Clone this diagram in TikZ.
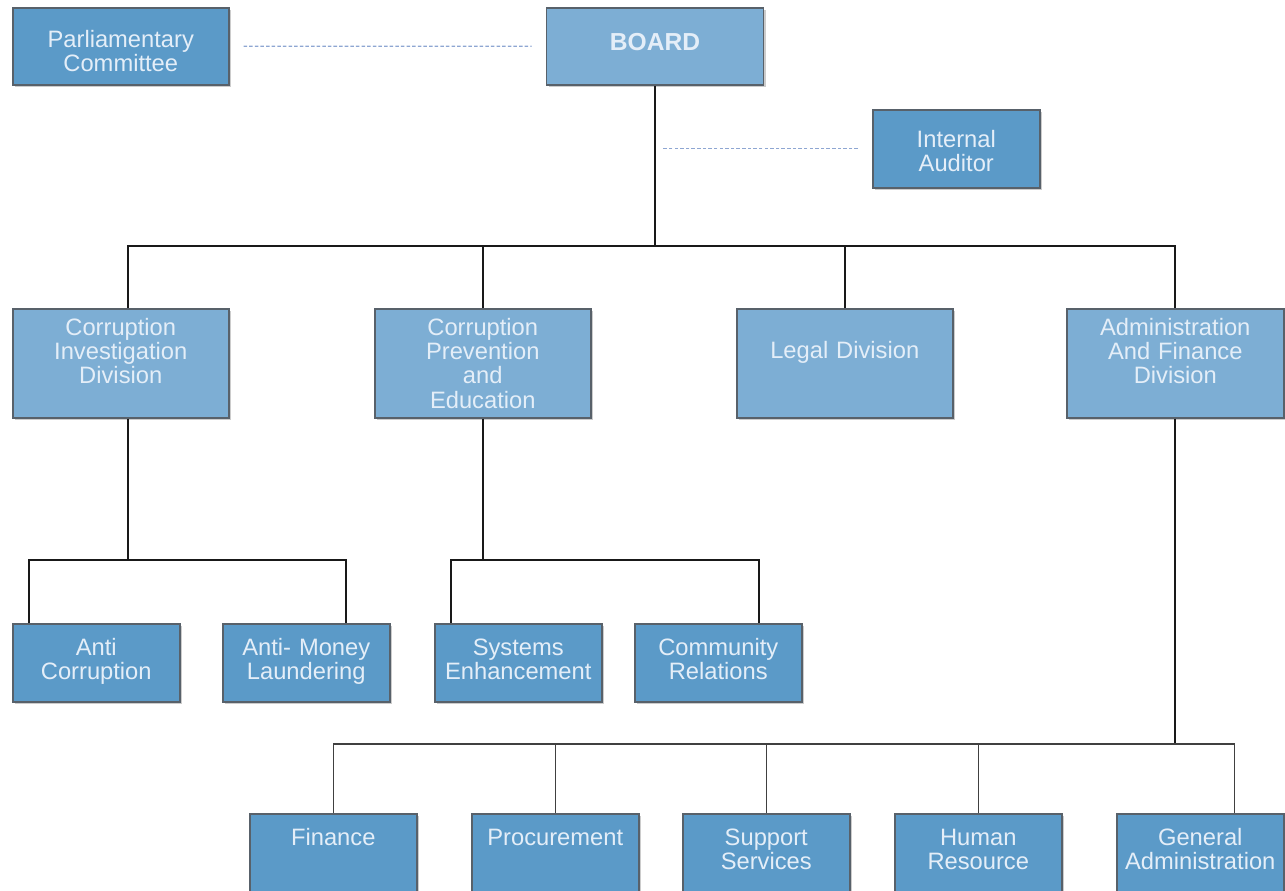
\documentclass[tikz,border=0pt]{standalone}
\usepackage{fontspec}
\setmainfont{Liberation Sans}
\usetikzlibrary{shadows}
\definecolor{lightbox}{HTML}{7DAED4}
\definecolor{darkbox}{HTML}{5B9AC8}
\definecolor{edgegray}{HTML}{58616A}
\definecolor{boxtext}{HTML}{E4EEF8}
\definecolor{dashblue}{HTML}{8EA6D2}
\newcommand\orgfont{\fontsize{13.5}{13.7}\selectfont}
\begin{document}
\begin{tikzpicture}[x=0.02cm,y=-0.02cm,
    box/.style={draw=edgegray, line width=0.9pt, text=boxtext, font=\orgfont, align=center,
      inner sep=0pt, drop shadow={shadow xshift=.05cm, shadow yshift=-.05cm, fill=black, opacity=.2}},
    light/.style={box, fill=lightbox},
    dark/.style={box, fill=darkbox},
    side/.style={dark, anchor=north west, text width=4.32cm, text height=.8cm, text depth=.74cm},
    division/.style={light, anchor=north west, text width=4.32cm, text height=.54cm, text depth=1.64cm},
    leaf/.style={dark, anchor=north west, text width=3.34cm, text height=.64cm, text depth=.92cm},
    bottomleaf/.style={leaf, text depth=.96cm},
    link/.style={draw=black!90, line width=1pt},
    sublink/.style={draw=black!75, line width=0.8pt},
    aux/.style={draw=dashblue, line width=0.7pt, dash pattern=on 2pt off 1.2pt}]
    \useasboundingbox (0,0) rectangle (1285,890);
    \clip (0,0) rectangle (1285,890);
    % top level
    \node[side] (parl) at (12,7) {Parliamentary\\Committee};
    \node[light, anchor=north, text width=4.34cm, text height=.86cm, text depth=.68cm,
      font=\fontsize{14}{14}\selectfont\bfseries] (board) at (655,7) {BOARD};
    \node[dark, anchor=north west, text width=3.34cm, text height=.76cm, text depth=.8cm] (audit) at (872,109) {Internal\\Auditor};
    % divisions
    \node[division] (cid) at (12,308) {Corruption\\Investigation\\Division};
    \node[division] (cpe) at (374,308) {Corruption\\Prevention\\and\\Education};
    \node[division, text height=1cm, text depth=1.18cm] (legal) at (736,308) {Legal Division};
    \node[division, text width=4.34cm] (afd) at (1066,308) {Administration\\And Finance\\Division};
    % units
    \node[leaf] (ac) at (12,623) {Anti\\Corruption};
    \node[leaf] (aml) at (222,623) {Anti- Money\\Laundering};
    \node[leaf] (se) at (434,623) {Systems\\Enhancement};
    \node[leaf] (cr) at (634,623) {Community\\Relations};
    \node[bottomleaf] (fin) at (249,813) {Finance};
    \node[bottomleaf] (proc) at (471,813) {Procurement};
    \node[bottomleaf] (sup) at (682,813) {Support\\Services};
    \node[bottomleaf] (hr) at (894,813) {Human\\Resource};
    \node[bottomleaf] (ga) at (1116,813) {General\\Administration};
    % dashed links
    \draw[aux] ([xshift=.28cm]parl.east) -- ([xshift=-.28cm]board.west);
    \draw[aux] ([xshift=-.28cm]audit.west) -- ([xshift=.14cm]audit.west -| board.south);
    % board to divisions
    \coordinate (trunk) at (655,246);
    \draw[link] (board.south) -- (trunk);
    \draw[link] ([xshift=.14cm]cid.north) |- (trunk) -| (afd.north);
    \draw[link] (cpe.north) -- (cpe.north |- trunk);
    \draw[link] (legal.north) -- (legal.north |- trunk);
    % divisions to units
    \coordinate (cid bus) at ([xshift=.14cm]cid.south |- 0,560);
    \draw[link] ([xshift=.14cm]cid.south) -- (cid bus);
    \draw[link] ([xshift=-1.35cm]ac.north) |- (cid bus) -| ([xshift=.79cm]aml.north);
    \coordinate (cpe bus) at (cpe.south |- 0,560);
    \draw[link] (cpe.south) -- (cpe bus);
    \draw[link] ([xshift=-1.34cm]se.north) |- (cpe bus) -| ([xshift=.81cm]cr.north);
    \coordinate (afd bus) at (afd.south |- 0,744);
    \draw[link] (afd.south) -- (afd bus);
    \draw[sublink] (fin.north) |- ([xshift=.69cm]ga.north |- afd bus) -- ([xshift=.69cm]ga.north);
    \foreach \u in {proc,sup,hr}
      \draw[sublink] (\u.north) -- (\u.north |- afd bus);
\end{tikzpicture}
\end{document}
